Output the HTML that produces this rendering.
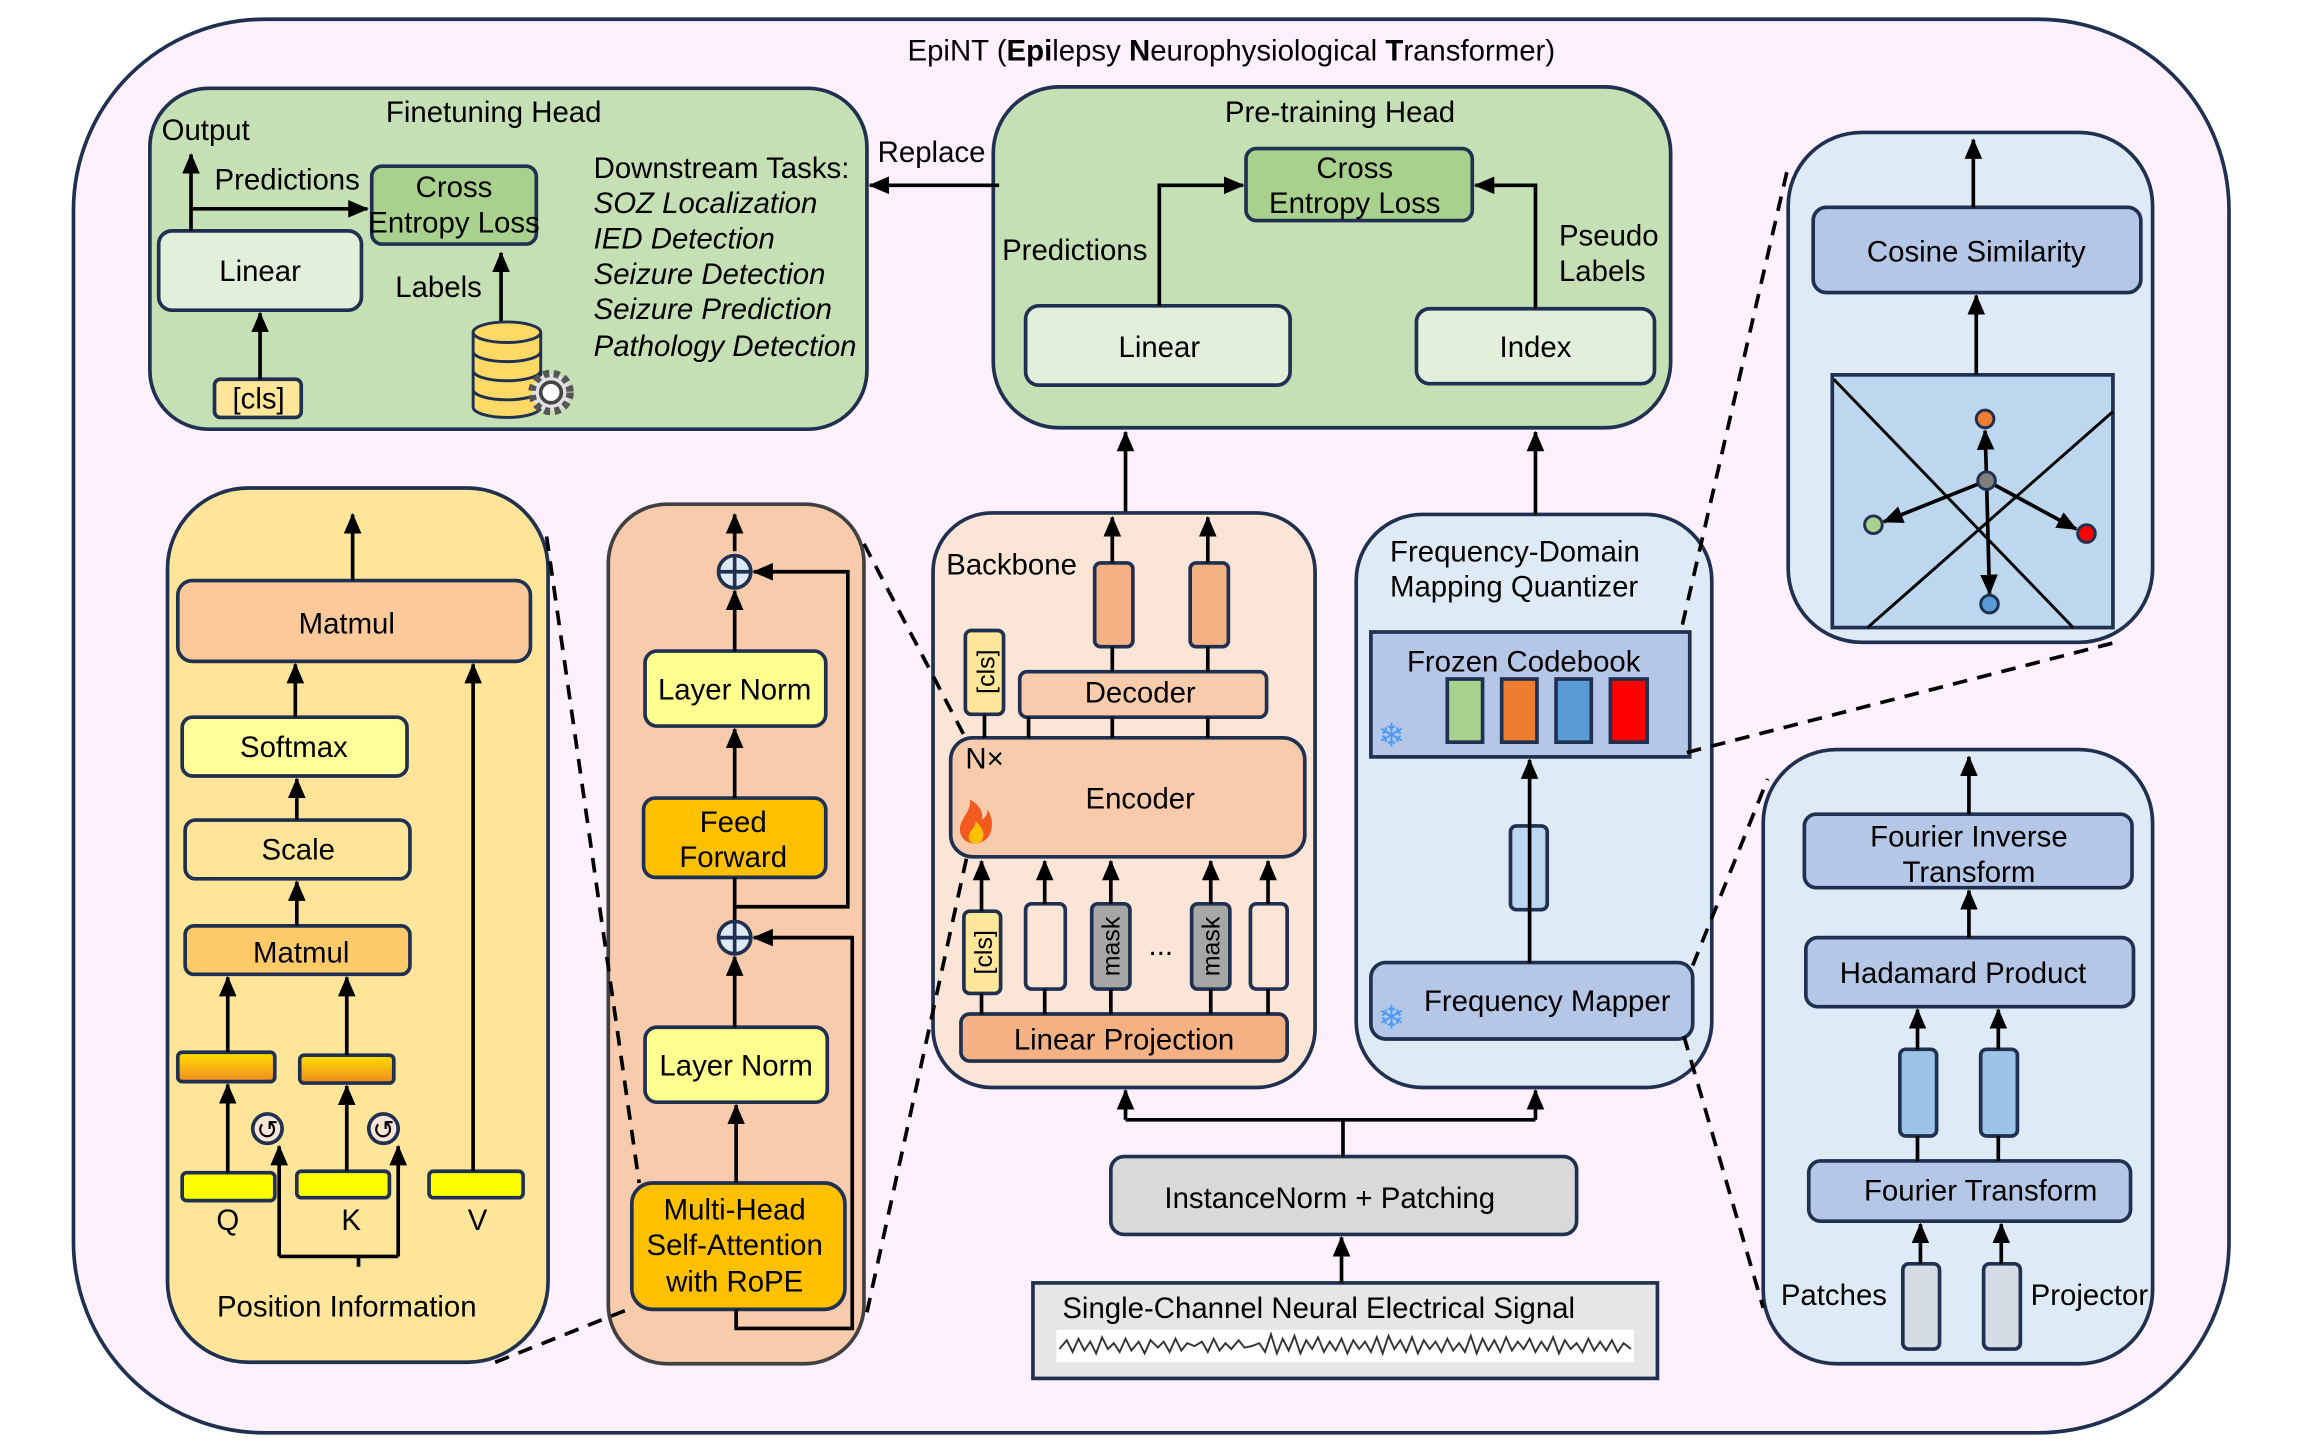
<!DOCTYPE html>
<html><head><meta charset="utf-8"><style>
html,body{margin:0;padding:0;background:#fff}
svg{display:block}
text{font-family:"Liberation Sans",sans-serif;font-size:20px;fill:#000}
</style></head><body>
<svg width="2301" height="1455" viewBox="0 0 1566 990" xmlns="http://www.w3.org/2000/svg">
<defs>
<marker id="a" markerUnits="userSpaceOnUse" markerWidth="14" markerHeight="12" refX="13" refY="6" orient="auto"><path d="M0,0 L14,6 L0,12 z" fill="#000"/></marker>
<linearGradient id="g" x1="0" y1="0" x2="0" y2="1"><stop offset="0" stop-color="#ffe000"/><stop offset="1" stop-color="#f08a20"/></linearGradient>
</defs>
<g stroke="#1f3050" stroke-width="2.5">
<rect x="50" y="13" width="1467" height="962" rx="130" fill="#fef0fc"/>
<rect x="102" y="60" width="488" height="232" rx="40" fill="#c5e0b4"/>
<rect x="253" y="113" width="112" height="53" rx="7" fill="#a9d18e"/>
<rect x="108" y="157" width="138" height="54" rx="9" fill="#e2efda"/>
<rect x="146" y="258" width="59" height="26" rx="4" fill="#ffe699"/>
<rect x="676" y="59" width="461" height="232" rx="45" fill="#c5e0b4"/>
<rect x="848" y="101" width="154" height="49" rx="7" fill="#a9d18e"/>
<rect x="698" y="208" width="180" height="54" rx="9" fill="#e2efda"/>
<rect x="964" y="210" width="162" height="51" rx="9" fill="#e2efda"/>
<rect x="1217" y="90" width="248" height="347" rx="50" fill="#deebf7"/>
<rect x="1234" y="141" width="223" height="58" rx="9" fill="#b4c7e7"/>
<rect x="1247" y="255" width="191" height="172" fill="#bdd7ee"/>
<rect x="635" y="349" width="260" height="391" rx="40" fill="#fbe5d6"/>
<rect x="694" y="457" width="168" height="31" rx="5" fill="#f8cbad"/>
<rect x="745" y="383" width="26" height="57" rx="4" fill="#f4b183"/>
<rect x="810" y="383" width="26" height="57" rx="4" fill="#f4b183"/>
<rect x="657" y="429" width="26" height="57" rx="4" fill="#ffe699"/>
<rect x="647" y="502" width="241" height="81" rx="15" fill="#f8cbad"/>
<rect x="656" y="620" width="25" height="56" rx="4" fill="#ffe699"/>
<rect x="698" y="615" width="27" height="58" rx="4" fill="#fbe5d6"/>
<rect x="743" y="615" width="26" height="58" rx="4" fill="#a6a6a6"/>
<rect x="811" y="615" width="26" height="58" rx="4" fill="#a6a6a6"/>
<rect x="851" y="615" width="25" height="58" rx="4" fill="#fbe5d6"/>
<rect x="654" y="690" width="222" height="32" rx="6" fill="#f4b183"/>
<rect x="756" y="787" width="317" height="53" rx="9" fill="#d9d9d9"/>
<rect x="703" y="873" width="425" height="65" fill="#e7e6e6"/>
<rect x="923" y="350" width="242" height="390" rx="45" fill="#deebf7"/>
<rect x="933" y="430" width="217" height="85" fill="#b4c7e7"/>
<rect x="985" y="462" width="24" height="43" fill="#a9d18e"/>
<rect x="1022" y="462" width="24" height="43" fill="#ed7d31"/>
<rect x="1059" y="462" width="24" height="43" fill="#5b9bd5"/>
<rect x="1096" y="462" width="25" height="43" fill="#ff0000"/>
<rect x="1028" y="562" width="25" height="57" rx="4" fill="#bdd7ee"/>
<rect x="933" y="655" width="219" height="52" rx="10" fill="#b4c7e7"/>
<rect x="1200" y="510" width="265" height="418" rx="50" fill="#deebf7"/>
<rect x="1228" y="554" width="223" height="50" rx="8" fill="#b4c7e7"/>
<rect x="1229" y="638" width="223" height="47" rx="8" fill="#b4c7e7"/>
<rect x="1293" y="714" width="25" height="59" rx="4" fill="#9dc3e6"/>
<rect x="1348" y="714" width="25" height="59" rx="4" fill="#9dc3e6"/>
<rect x="1231" y="790" width="219" height="41" rx="8" fill="#b4c7e7"/>
<rect x="1295" y="860" width="25" height="58" rx="4" fill="#d6dce5"/>
<rect x="1350" y="860" width="25" height="58" rx="4" fill="#d6dce5"/>
<rect x="114" y="332" width="259" height="595" rx="55" fill="#fee599"/>
<rect x="121" y="395" width="240" height="55" rx="10" fill="#fbc99a"/>
<rect x="124" y="488" width="153" height="40" rx="7" fill="#ffff99"/>
<rect x="126" y="558" width="153" height="40" rx="7" fill="#fee599"/>
<rect x="126" y="630" width="153" height="33" rx="6" fill="#fdca6a"/>
<rect x="121" y="716" width="66" height="20" rx="3" fill="url(#g)"/>
<rect x="204" y="718" width="64" height="19" rx="3" fill="url(#g)"/>
<rect x="124" y="798" width="63" height="19" rx="3" fill="#ffff00"/>
<rect x="202" y="797" width="63" height="18" rx="3" fill="#ffff00"/>
<rect x="292" y="797" width="64" height="18" rx="3" fill="#ffff00"/>
<circle cx="182" cy="768" r="10" fill="#fbe5d6"/>
<circle cx="261" cy="768" r="10" fill="#fbe5d6"/>
<rect x="414" y="343" width="174" height="585" rx="40" fill="#f8cbad" stroke="#404040"/>
<rect x="439" y="443" width="123" height="51" rx="8" fill="#ffff8f"/>
<rect x="438" y="543" width="124" height="54" rx="8" fill="#ffc000"/>
<rect x="439" y="699" width="124" height="51" rx="8" fill="#ffff8f"/>
<rect x="430" y="805" width="145" height="86" rx="14" fill="#ffc000"/>
</g>
<g stroke="#000" stroke-width="2.5" fill="none">
<line x1="130" y1="157" x2="130" y2="105" marker-end="url(#a)"/>
<line x1="130" y1="142" x2="250" y2="142" marker-end="url(#a)"/>
<line x1="177" y1="258" x2="177" y2="213" marker-end="url(#a)"/>
<line x1="341" y1="222" x2="341" y2="172" marker-end="url(#a)"/>
<line x1="680" y1="126" x2="592" y2="126" marker-end="url(#a)"/>
<polyline points="789,208 789,126 846,126" marker-end="url(#a)"/>
<polyline points="1045,210 1045,126 1004,126" marker-end="url(#a)"/>
<line x1="766" y1="348" x2="766" y2="294" marker-end="url(#a)"/>
<line x1="1045" y1="350" x2="1045" y2="294" marker-end="url(#a)"/>
<line x1="1343" y1="141" x2="1343" y2="95" marker-end="url(#a)"/>
<line x1="1345" y1="255" x2="1345" y2="201" marker-end="url(#a)"/>
<line x1="1248" y1="258" x2="1411" y2="427" stroke-width="2"/>
<line x1="1271" y1="427" x2="1438" y2="280" stroke-width="2"/>
<line x1="1352" y1="327" x2="1351" y2="293" marker-end="url(#a)"/>
<line x1="1352" y1="327" x2="1282" y2="355" marker-end="url(#a)"/>
<line x1="1352" y1="327" x2="1413" y2="360" marker-end="url(#a)"/>
<line x1="1352" y1="327" x2="1354" y2="404" marker-end="url(#a)"/>
<line x1="757" y1="383" x2="757" y2="352" marker-end="url(#a)"/>
<line x1="822" y1="383" x2="822" y2="352" marker-end="url(#a)"/>
<line x1="757" y1="440" x2="757" y2="457"/><line x1="822" y1="440" x2="822" y2="457"/>
<line x1="670" y1="486" x2="670" y2="502"/><line x1="700" y1="488" x2="700" y2="502"/>
<line x1="757" y1="488" x2="757" y2="502"/><line x1="822" y1="488" x2="822" y2="502"/>
<line x1="668" y1="620" x2="668" y2="586" marker-end="url(#a)"/>
<line x1="711" y1="615" x2="711" y2="586" marker-end="url(#a)"/>
<line x1="756" y1="615" x2="756" y2="586" marker-end="url(#a)"/>
<line x1="824" y1="615" x2="824" y2="586" marker-end="url(#a)"/>
<line x1="863" y1="615" x2="863" y2="586" marker-end="url(#a)"/>
<line x1="668" y1="676" x2="668" y2="690"/><line x1="711" y1="673" x2="711" y2="690"/>
<line x1="756" y1="673" x2="756" y2="690"/><line x1="824" y1="673" x2="824" y2="690"/><line x1="863" y1="673" x2="863" y2="690"/>
<polyline points="766,762 1045,762"/>
<line x1="766" y1="762" x2="766" y2="742" marker-end="url(#a)"/>
<line x1="1045" y1="762" x2="1045" y2="742" marker-end="url(#a)"/>
<line x1="914" y1="762" x2="914" y2="787"/>
<line x1="913" y1="873" x2="913" y2="842" marker-end="url(#a)"/>
<line x1="1041" y1="655" x2="1041" y2="517" marker-end="url(#a)"/>
<line x1="1340" y1="554" x2="1340" y2="515" marker-end="url(#a)"/>
<line x1="1340" y1="638" x2="1340" y2="606" marker-end="url(#a)"/>
<line x1="1305" y1="714" x2="1305" y2="687" marker-end="url(#a)"/>
<line x1="1360" y1="714" x2="1360" y2="687" marker-end="url(#a)"/>
<line x1="1305" y1="773" x2="1305" y2="790"/><line x1="1360" y1="773" x2="1360" y2="790"/>
<line x1="1307" y1="860" x2="1307" y2="833" marker-end="url(#a)"/>
<line x1="1362" y1="860" x2="1362" y2="833" marker-end="url(#a)"/>
<line x1="240" y1="395" x2="240" y2="350" marker-end="url(#a)"/>
<line x1="201" y1="488" x2="201" y2="452" marker-end="url(#a)"/>
<line x1="322" y1="797" x2="322" y2="452" marker-end="url(#a)"/>
<line x1="202" y1="558" x2="202" y2="530" marker-end="url(#a)"/>
<line x1="202" y1="630" x2="202" y2="600" marker-end="url(#a)"/>
<line x1="155" y1="716" x2="155" y2="665" marker-end="url(#a)"/>
<line x1="236" y1="718" x2="236" y2="665" marker-end="url(#a)"/>
<line x1="155" y1="798" x2="155" y2="738" marker-end="url(#a)"/>
<line x1="236" y1="797" x2="236" y2="739" marker-end="url(#a)"/>
<polyline points="244,862 244,855"/>
<polyline points="190,855 271,855"/>
<line x1="190" y1="855" x2="190" y2="780" marker-end="url(#a)"/>
<line x1="271" y1="855" x2="271" y2="780" marker-end="url(#a)"/>
<line x1="500" y1="375" x2="500" y2="350" marker-end="url(#a)"/>
<line x1="500" y1="443" x2="500" y2="402" marker-end="url(#a)"/>
<line x1="500" y1="543" x2="500" y2="496" marker-end="url(#a)"/>
<line x1="500" y1="597" x2="500" y2="627"/>
<polyline points="500,617 577,617 577,389 513,389" marker-end="url(#a)"/>
<line x1="500" y1="699" x2="500" y2="651" marker-end="url(#a)"/>
<line x1="501" y1="805" x2="501" y2="752" marker-end="url(#a)"/>
<polyline points="501,891 501,904 580,904 580,638 513,638" marker-end="url(#a)"/>
</g>
<g stroke="#1f3050" stroke-width="2.5">
<circle cx="500" cy="389" r="11" fill="#deebf7"/><line x1="489" y1="389" x2="511" y2="389"/><line x1="500" y1="378" x2="500" y2="400"/>
<circle cx="500" cy="638" r="11" fill="#deebf7"/><line x1="489" y1="638" x2="511" y2="638"/><line x1="500" y1="627" x2="500" y2="649"/>
<circle cx="1351" cy="285" r="6" fill="#ed7d31" stroke-width="2"/>
<circle cx="1352" cy="327" r="6" fill="#7f7f7f" stroke-width="2"/>
<circle cx="1275" cy="357" r="6" fill="#a9d18e" stroke-width="2"/>
<circle cx="1420" cy="363" r="6" fill="#ff0000" stroke-width="2"/>
<circle cx="1354" cy="411" r="6" fill="#5b9bd5" stroke-width="2"/>
</g>
<text x="182" y="775" text-anchor="middle" style="font-size:18px">↺</text>
<text x="261" y="775" text-anchor="middle" style="font-size:18px">↺</text>
<g stroke="#000" stroke-width="2.5" stroke-dasharray="10,7" fill="none">
<line x1="372" y1="365" x2="435" y2="805"/>
<line x1="337" y1="927" x2="430" y2="890"/>
<line x1="588" y1="370" x2="657" y2="502"/>
<line x1="590" y1="893" x2="658" y2="583"/>
<line x1="1145" y1="425" x2="1217" y2="113"/>
<line x1="1148" y1="512" x2="1440" y2="437"/>
<line x1="1152" y1="657" x2="1203" y2="530"/>
<line x1="1146" y1="705" x2="1200" y2="890"/>
</g>
<g stroke="#1f3050" stroke-width="2" fill="#ffd966">
<path d="M322,265 v12 a23,7 0 0 0 46,0 v-12"/>
<path d="M322,252 v13 a23,7 0 0 0 46,0 v-13"/>
<path d="M322,239 v13 a23,7 0 0 0 46,0 v-13"/>
<path d="M322,226 v13 a23,7 0 0 0 46,0 v-13"/>
<ellipse cx="345" cy="226" rx="23" ry="7"/>
</g>
<circle cx="375" cy="267" r="13" fill="#e0e0e0" stroke="#555" stroke-width="5" stroke-dasharray="4,3"/>
<circle cx="375" cy="267" r="7" fill="#fff" stroke="#444" stroke-width="2.5"/>
<path d="M664,574 c-10,0 -13,-9 -9,-16 c3,-5 6,-9 5,-14 c6,3 10,9 8,14 c3,-2 4,-4 4,-7 c5,6 5,22 -8,23 z" fill="#f25a1f"/>
<path d="M664,574 c-5,0 -6,-5 -3,-9 c2,-2 3,-4 3,-6 c4,3 6,8 5,10 c0,3 -2,5 -5,5 z" fill="#ffc000"/>
<text x="947" y="508" text-anchor="middle" style="font-size:22px;fill:#4a9af5">❄</text>
<text x="947" y="700" text-anchor="middle" style="font-size:22px;fill:#4a9af5">❄</text>
<rect x="719" y="905" width="393" height="22" fill="#fff"/>
<polyline fill="none" stroke="#333" stroke-width="1.3" points="721,918 726,912 730,920 734,911 738,919 742,913 746,921 750,910 754,918 758,914 762,920 766,911 770,919 775,913 779,921 783,912 788,917 792,913 796,920 800,911 804,919 808,914 813,916 818,913 822,920 826,911 830,919 834,914 838,918 843,912 847,917 852,916 857,914 861,920 865,908 869,921 873,911 877,919 881,909 885,921 889,912 893,918 897,910 901,920 905,913 909,919 913,911 917,921 921,912 925,918 929,913 933,920 937,910 941,921 945,909 949,918 953,912 957,920 961,910 965,921 969,912 973,918 977,913 981,920 985,911 989,919 993,914 997,920 1001,909 1005,921 1009,911 1013,919 1017,912 1021,920 1025,910 1029,919 1033,913 1037,918 1041,911 1045,920 1049,913 1053,919 1057,910 1061,921 1065,912 1069,918 1073,914 1077,920 1081,911 1085,919 1089,913 1093,919 1097,912 1101,920 1105,914 1110,918"/>
<text x="838" y="41" text-anchor="middle">EpiNT (<tspan font-weight="bold">Epi</tspan>lepsy <tspan font-weight="bold">N</tspan>europhysiological <tspan font-weight="bold">T</tspan>ransformer)</text>
<text x="336" y="83" text-anchor="middle">Finetuning Head</text>
<text x="110" y="95">Output</text>
<text x="146" y="129">Predictions</text>
<text x="309" y="134" text-anchor="middle">Cross</text>
<text x="309" y="158" text-anchor="middle">Entropy Loss</text>
<text x="177" y="191" text-anchor="middle">Linear</text>
<text x="176" y="278" text-anchor="middle">[cls]</text>
<text x="269" y="202">Labels</text>
<text x="404" y="121">Downstream Tasks:</text>
<text x="404" y="145" font-style="italic">SOZ Localization</text>
<text x="404" y="169" font-style="italic">IED Detection</text>
<text x="404" y="193" font-style="italic">Seizure Detection</text>
<text x="404" y="217" font-style="italic">Seizure Prediction</text>
<text x="404" y="242" font-style="italic">Pathology Detection</text>
<text x="634" y="110" text-anchor="middle">Replace</text>
<text x="912" y="83" text-anchor="middle">Pre-training Head</text>
<text x="922" y="121" text-anchor="middle">Cross</text>
<text x="922" y="145" text-anchor="middle">Entropy Loss</text>
<text x="682" y="177">Predictions</text>
<text x="1061" y="167">Pseudo</text>
<text x="1061" y="191">Labels</text>
<text x="789" y="243" text-anchor="middle">Linear</text>
<text x="1045" y="243" text-anchor="middle">Index</text>
<text x="1345" y="178" text-anchor="middle">Cosine Similarity</text>
<text x="644" y="391">Backbone</text>
<text x="776" y="478" text-anchor="middle">Decoder</text>
<text x="657" y="523">N×</text>
<text x="776" y="550" text-anchor="middle">Encoder</text>
<text x="765" y="714" text-anchor="middle">Linear Projection</text>
<text x="790" y="650" text-anchor="middle">...</text>
<text transform="translate(677,457) rotate(-90)" text-anchor="middle" style="font-size:17px">[cls]</text>
<text transform="translate(675,648) rotate(-90)" text-anchor="middle" style="font-size:17px">[cls]</text>
<text transform="translate(762,644) rotate(-90)" text-anchor="middle" style="font-size:17px">mask</text>
<text transform="translate(830,644) rotate(-90)" text-anchor="middle" style="font-size:17px">mask</text>
<text x="905" y="822" text-anchor="middle">InstanceNorm + Patching</text>
<text x="723" y="897">Single-Channel Neural Electrical Signal</text>
<text x="946" y="382">Frequency-Domain</text>
<text x="946" y="406">Mapping Quantizer</text>
<text x="1037" y="457" text-anchor="middle">Frozen Codebook</text>
<text x="1053" y="688" text-anchor="middle">Frequency Mapper</text>
<text x="1340" y="576" text-anchor="middle">Fourier Inverse</text>
<text x="1340" y="600" text-anchor="middle">Transform</text>
<text x="1336" y="669" text-anchor="middle">Hadamard Product</text>
<text x="1348" y="817" text-anchor="middle">Fourier Transform</text>
<text x="1212" y="888">Patches</text>
<text x="1382" y="888">Projector</text>
<text x="236" y="431" text-anchor="middle">Matmul</text>
<text x="200" y="515" text-anchor="middle">Softmax</text>
<text x="203" y="585" text-anchor="middle">Scale</text>
<text x="205" y="655" text-anchor="middle">Matmul</text>
<text x="155" y="837" text-anchor="middle">Q</text>
<text x="239" y="837" text-anchor="middle">K</text>
<text x="325" y="837" text-anchor="middle">V</text>
<text x="236" y="896" text-anchor="middle">Position Information</text>
<text x="500" y="476" text-anchor="middle">Layer Norm</text>
<text x="499" y="566" text-anchor="middle">Feed</text>
<text x="499" y="590" text-anchor="middle">Forward</text>
<text x="501" y="732" text-anchor="middle">Layer Norm</text>
<text x="500" y="830" text-anchor="middle">Multi-Head</text>
<text x="500" y="854" text-anchor="middle">Self-Attention</text>
<text x="500" y="879" text-anchor="middle">with RoPE</text>
</svg>
</body></html>
